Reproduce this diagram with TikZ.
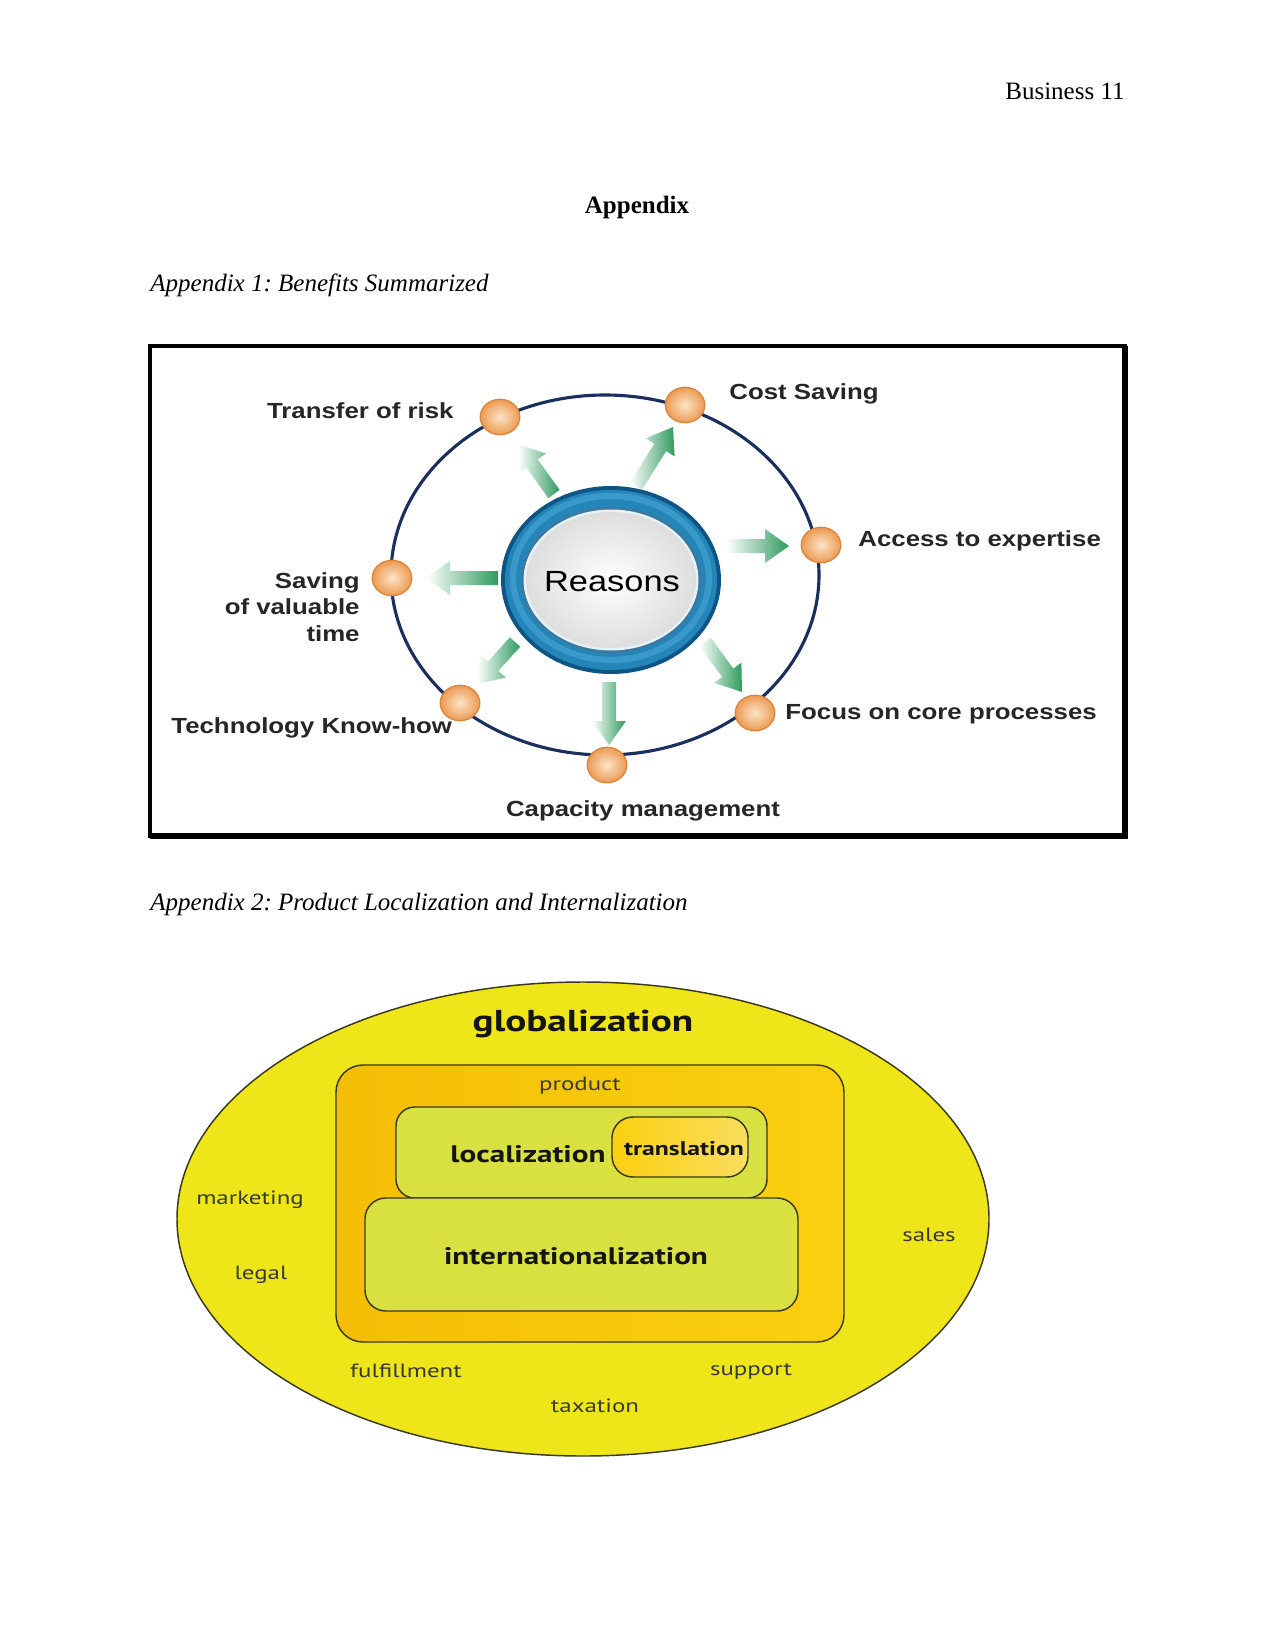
\documentclass[tikz,border=0pt]{standalone}
\usepackage{fontspec}
\setmainfont{Liberation Serif}
\newfontfamily\dga{Liberation Sans}
\newfontfamily\dgb{PT Sans}
\usetikzlibrary{shapes.geometric,calc}
\frenchspacing
\definecolor{navy}{HTML}{1B2F5C}
\definecolor{agreen}{HTML}{2E9A5E}
\definecolor{dotin}{HTML}{FCE4C8}
\definecolor{dotout}{HTML}{EC9A52}
\definecolor{dotline}{HTML}{D9853E}
\definecolor{ringdark}{HTML}{0F5584}
\definecolor{ringmid}{HTML}{2485B8}
\definecolor{ringlight}{HTML}{4DAEDC}
\definecolor{gyellow}{HTML}{EEE619}
\definecolor{gorangeA}{HTML}{F5BE06}
\definecolor{gorangeB}{HTML}{FAD010}
\definecolor{glime}{HTML}{D9E141}
\definecolor{gtrans}{HTML}{F8D535}
\definecolor{gline}{HTML}{3A3820}
\tikzset{
  lbl/.style={font=\dga\bfseries\fontsize{10.5}{12.7}\selectfont, text=black!85, inner sep=0pt},
  dotnode/.style={ellipse, draw=dotline, line width=0.6pt, inner color=dotin, outer color=dotout, minimum width=19pt, minimum height=17pt, inner sep=0pt},
  glbl/.style={font=\dgb\fontsize{9.2}{10}\selectfont, text=black!78, inner sep=0pt},
  gbold/.style={font=\dgb\bfseries\fontsize{11.5}{13}\selectfont, text=black!92, inner sep=0pt},
  pagetxt/.style={font=\fontsize{12}{14}\selectfont, inner sep=0pt},
  gbox/.style={draw=gline, line width=0.7pt},
}
\newcommand\sx[1]{\scalebox{1.18}[1]{#1}}
\newcommand\gx[1]{\scalebox{1.3}[1]{#1}}
\newcommand\garrow[3]{%
  \begin{scope}[shift={(#1)},rotate=#2]
    \shade[left color=white, right color=agreen]
      (0,-7) -- ({#3-24},-7) -- ({#3-24},-17) -- (#3,0) -- ({#3-24},17) -- ({#3-24},7) -- (0,7) -- cycle;
  \end{scope}}
\begin{document}
\begin{tikzpicture}[x=0.48pt,y=0.48pt]
\useasboundingbox[fill=white] (0,0) rectangle (1275,-1650);

% page text
\node[pagetxt, anchor=base east] (hdr) at (1125,-100) {Business 11};
\node[pagetxt, anchor=base, font=\fontsize{12}{14}\selectfont\bfseries] (app) at (637,-214) {Appendix};
\node[pagetxt, anchor=base west, font=\fontsize{12}{14}\selectfont\itshape] (cap1) at (150,-292) {Appendix 1: Benefits Summarized};
\node[pagetxt, anchor=base west, font=\fontsize{12}{14}\selectfont\itshape] (cap2) at (150,-910) {Appendix 2: Product Localization and Internalization};

% ---------- diagram 1 ----------
\draw[line width=1.6pt] (150,-346) rectangle (1125,-836);
\draw[line width=2.6pt] (1125,-346) -- (1125,-836) -- (150,-836);
\draw[navy, line width=1.5pt] (605,-575) ellipse (214 and 180);

% arrows (tails as named coordinates)
\coordinate (t1) at (554,-494);
\coordinate (t2) at (636,-486);
\coordinate (t3) at (726,-546);
\coordinate (t4) at (498,-578);
\coordinate (t5) at (515,-642);
\coordinate (t6) at (609,-682);
\coordinate (t7) at (705,-642);
\garrow{t1}{125.8}{61.6}
\garrow{t2}{57.9}{69.6}
\garrow{t3}{0}{63}
\garrow{t4}{180}{72}
\garrow{t5}{-132.1}{56.6}
\garrow{t6}{-90}{63}
\garrow{t7}{-53.5}{62.2}

% centre ring
\fill[ringdark] (611,-580) ellipse (110 and 94);
\fill[ringmid] (611,-580) ellipse (106 and 90);
\draw[ringlight, line width=3pt, opacity=0.5] (611,-578) ellipse (98 and 82);
\fill[ringdark!80] (611,-580) ellipse (90 and 73);
\fill[white!85!ringlight] (611,-580) ellipse (87.5 and 70.5);
\shade[inner color=white, outer color=black!13] (611,-580) ellipse (85 and 68);
\node[font=\dga\fontsize{14}{16}\selectfont, inner sep=0pt] (R) at (612,-582) {\scalebox{1.18}[1]{Reasons}};

% dots
\node[dotnode] (d1) at (500,-417) {};
\node[dotnode] (d2) at (685,-405) {};
\node[dotnode] (d3) at (821,-545) {};
\node[dotnode] (d4) at (392,-578) {};
\node[dotnode] (d5) at (460,-703) {};
\node[dotnode] (d6) at (755,-713) {};
\node[dotnode] (d7) at (607,-765) {};

% labels
\node[lbl, anchor=east] (l1) at (454,-411) {\sx{Transfer of risk}};
\node[lbl, anchor=west] (l2) at (729,-394) {\sx{Cost Saving}};
\node[lbl, anchor=west] (l3) at (858,-541) {\sx{Access to expertise}};
\node[lbl, anchor=east, align=right] (l4) at (360,-607) {\sx{Saving}\\\sx{of valuable}\\\sx{time}};
\node[lbl, anchor=west] (l5) at (171,-728) {\sx{Technology Know-how}};
\node[lbl, anchor=west] (l6) at (785,-714) {\sx{Focus on core processes}};
\node[lbl] (l7) at (643,-811) {\sx{Capacity management}};

% ---------- diagram 2 ----------
\draw[gbox, fill=gyellow] (583,-1219) ellipse (406 and 237);
\shadedraw[gbox, left color=gorangeA, right color=gorangeB, rounded corners=13pt] (336,-1065) rectangle (844,-1342);
\filldraw[gbox, fill=glime, rounded corners=9pt] (396,-1107) rectangle (767,-1198);
\filldraw[gbox, fill=glime, rounded corners=10pt] (365,-1198) rectangle (798,-1311);
\shadedraw[gbox, left color=gorangeB, right color=gtrans!80!white, rounded corners=10pt] (612,-1117) rectangle (748,-1177);

\node[gbold, font=\dgb\bfseries\fontsize{14.5}{16}\selectfont] (glob) at (583,-1024) {\gx{globalization}};
\node[glbl] (prod) at (580,-1086) {\gx{product}};
\node[gbold] (loc) at (528,-1154) {\gx{localization}};
\node[gbold, font=\dgb\bfseries\fontsize{9.5}{11}\selectfont] (trans) at (684,-1149) {\gx{translation}};
\node[gbold] (intl) at (576,-1256) {\gx{internationalization}};
\node[glbl] (mkt) at (250,-1200) {\gx{marketing}};
\node[glbl] (legal) at (261,-1275) {\gx{legal}};
\node[glbl] (sales) at (929,-1235) {\gx{sales}};
\node[glbl] (fulf) at (406,-1371) {\gx{fulfillment}};
\node[glbl] (supp) at (751,-1371) {\gx{support}};
\node[glbl] (tax) at (595,-1406) {\gx{taxation}};
\end{tikzpicture}
\end{document}
